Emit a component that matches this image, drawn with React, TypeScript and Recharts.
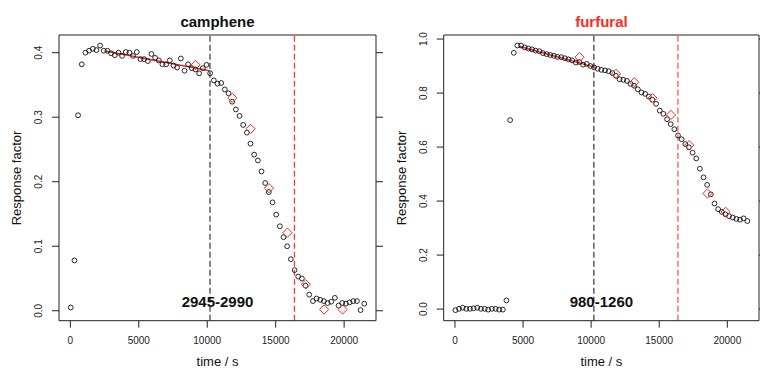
import React from 'react';
import { ComposedChart, Scatter, XAxis, YAxis, ReferenceLine } from 'recharts';

const FONT = '"Liberation Sans", Arial, Helvetica, sans-serif';

// sample times (s), shared by both panels
const TIMES = [
  30, 300, 565, 835, 1100, 1370, 1640, 1905, 2175, 2440,
  2710, 2980, 3245, 3515, 3780, 4050, 4320, 4585, 4855, 5120,
  5390, 5660, 5925, 6195, 6460, 6730, 7000, 7265, 7535, 7800,
  8070, 8340, 8605, 8875, 9140, 9410, 9680, 9945, 10215, 10480,
  10750, 11020, 11285, 11555, 11820, 12090, 12360, 12625, 12895, 13160,
  13430, 13700, 13965, 14235, 14500, 14770, 15040, 15305, 15575, 15840,
  16110, 16380, 16645, 16915, 17180, 17450, 17720, 17985, 18255, 18520,
  18790, 19060, 19325, 19595, 19860, 20130, 20400, 20665, 20935, 21200,
  21470,
];

const CAMPHENE = [
  0.005, 0.078, 0.303, 0.382, 0.400, 0.403, 0.406, 0.404, 0.411, 0.403,
  0.403, 0.399, 0.396, 0.400, 0.395, 0.401, 0.400, 0.395, 0.401, 0.390,
  0.390, 0.387, 0.398, 0.392, 0.388, 0.382, 0.382, 0.388, 0.380, 0.377,
  0.391, 0.372, 0.382, 0.376, 0.374, 0.368, 0.376, 0.381, 0.368, 0.357,
  0.352, 0.353, 0.343, 0.337, 0.324, 0.312, 0.302, 0.288, 0.276, 0.259,
  0.242, 0.233, 0.216, 0.198, 0.184, 0.168, 0.149, 0.131, 0.114, 0.100,
  0.080, 0.063, 0.053, 0.050, 0.039, 0.025, 0.015, 0.019, 0.017, 0.015,
  0.012, 0.014, 0.020, 0.008, 0.012, 0.011, 0.013, 0.015, 0.015, 0.001,
  0.011,
];

const FURFURAL = [
  -0.004, 0.001, 0.005, 0.001, 0.001, 0.003, 0.005, 0.001, 0.001, -0.002,
  0.001, 0.001, -0.002, -0.002, 0.032, 0.700, 0.949, 0.976, 0.976, 0.969,
  0.965, 0.962, 0.957, 0.955, 0.948, 0.944, 0.941, 0.938, 0.934, 0.933,
  0.929, 0.925, 0.921, 0.913, 0.915, 0.905, 0.908, 0.900, 0.895, 0.890,
  0.886, 0.884, 0.881, 0.874, 0.864, 0.851, 0.849, 0.845, 0.834, 0.827,
  0.814, 0.802, 0.797, 0.787, 0.775, 0.760, 0.735, 0.723, 0.703, 0.685,
  0.666, 0.643, 0.629, 0.611, 0.599, 0.579, 0.558, 0.520, 0.488, 0.460,
  0.425, 0.391, 0.370, 0.360, 0.351, 0.344, 0.339, 0.334, 0.331, 0.336,
  0.326,
];

// red diamonds
const DIAMOND_TIMES = [9150, 11830, 13170, 14510, 15860, 17200, 18540, 19880];
const CAMPHENE_DIAMONDS = [0.381, 0.330, 0.282, 0.190, 0.121, 0.041, 0.002, 0.002];
const FURFURAL_DIAMONDS = [0.933, 0.871, 0.840, 0.781, 0.719, 0.607, 0.428, 0.360];

// red fit segments [time, value]
const CAMPHENE_FIT = [[2555, 0.4026], [10168, 0.372]];
const FURFURAL_FIT = [[4760, 0.9725], [10250, 0.896]];

// vertical markers
const GRAY_LINE_TIME = 10200;
const RED_LINE_TIME = 16370;

const X_TICKS = [0, 5000, 10000, 15000, 20000];
const X_DOMAIN = [-828, 22328];
const CAMPHENE_Y_TICKS = [0, 0.1, 0.2, 0.3, 0.4];
const FURFURAL_Y_TICKS = [0, 0.2, 0.4, 0.6, 0.8, 1.0];

const XTick = (p: any) => (
  <text x={p.x} y={p.y} dy="0.71em" textAnchor="middle" fontSize={10} fill="#222" fontFamily={FONT}>
    {p.payload.value}
  </text>
);

const YTick = (p: any) => (
  <text
    x={p.x}
    y={p.y}
    transform={`rotate(-90 ${p.x} ${p.y})`}
    textAnchor="middle"
    fontSize={10}
    fill="#222"
    fontFamily={FONT}
  >
    {Number(p.payload.value).toFixed(1)}
  </text>
);

const EmptyTick = () => <g />;

const Circle = (p: any) => (
  <circle cx={p.cx} cy={p.cy} r={2.4} fill="none" stroke="#111" strokeWidth={0.9} />
);

const Diamond = (p: any) => {
  const s = 4.6;
  return (
    <path
      d={`M${p.cx},${p.cy - s} L${p.cx + s},${p.cy} L${p.cx},${p.cy + s} L${p.cx - s},${p.cy} Z`}
      fill="none"
      stroke="#f22a1a"
      strokeWidth={1}
    />
  );
};

function Panel(props: any) {
  const {
    left, width, leftAxisW, rightAxisW, values, diamonds, fit, yDomain, yTicks,
    grayStroke, grayWidth, redStroke, redWidth,
  } = props;
  const pts = TIMES.map((t, i) => ({ x: t, y: values[i] }));
  const dia = DIAMOND_TIMES.map((t, i) => ({ x: t, y: diamonds[i] }));
  return (
    <div style={{ position: 'absolute', left, top: 0, width, height: 371 }}>
      <ComposedChart width={width} height={371} margin={{ top: 35, right: 0, bottom: 20.3, left: 0 }}>
        <XAxis
          type="number"
          dataKey="x"
          domain={X_DOMAIN}
          ticks={X_TICKS}
          allowDataOverflow
          interval={0}
          height={30}
          tickSize={7}
          tickMargin={9}
          stroke="#222"
          tick={<XTick />}
        />
        <YAxis
          yAxisId="l"
          type="number"
          dataKey="y"
          domain={yDomain}
          ticks={yTicks}
          allowDataOverflow
          interval={0}
          width={leftAxisW}
          tickSize={7}
          tickMargin={9.5}
          stroke="#222"
          tick={<YTick />}
        />
        <YAxis
          yAxisId="r"
          orientation="right"
          type="number"
          domain={yDomain}
          ticks={yTicks}
          allowDataOverflow
          interval={0}
          width={rightAxisW}
          tickSize={7}
          stroke="#222"
          tick={<EmptyTick />}
        />
        <ReferenceLine yAxisId="l" y={yDomain[1]} stroke="#222" strokeWidth={1} ifOverflow="extendDomain" />
        <ReferenceLine yAxisId="l" x={GRAY_LINE_TIME} stroke={grayStroke} strokeWidth={grayWidth} strokeDasharray="6 3" />
        <ReferenceLine yAxisId="l" x={RED_LINE_TIME} stroke={redStroke} strokeWidth={redWidth} strokeDasharray="6 3" />
        <Scatter yAxisId="l" data={pts} dataKey="y" shape={<Circle />} isAnimationActive={false} />
        <ReferenceLine
          yAxisId="l"
          segment={[{ x: fit[0][0], y: fit[0][1] }, { x: fit[1][0], y: fit[1][1] }]}
          stroke="#f22a1a"
          strokeWidth={1.4}
        />
        <Scatter yAxisId="l" data={dia} dataKey="y" shape={<Diamond />} isAnimationActive={false} />
      </ComposedChart>
    </div>
  );
}

export default function App() {
  return (
    <div style={{ position: 'absolute', left: 0, top: 0, width: 760, height: 371, background: '#fff', overflow: 'hidden' }}>
      <Panel
        left={0}
        width={384}
        leftAxisW={59}
        rightAxisW={8}
        values={CAMPHENE}
        diamonds={CAMPHENE_DIAMONDS}
        fit={CAMPHENE_FIT}
        yDomain={[-0.0154, 0.4274]}
        yTicks={CAMPHENE_Y_TICKS}
        grayStroke="#7a7a7a"
        grayWidth={1.8}
        redStroke="#ff3b2f"
        redWidth={1.3}
      />
      <Panel
        left={384}
        width={376}
        leftAxisW={59.7}
        rightAxisW={1}
        values={FURFURAL}
        diamonds={FURFURAL_DIAMONDS}
        fit={FURFURAL_FIT}
        yDomain={[-0.043, 1.015]}
        yTicks={FURFURAL_Y_TICKS}
        grayStroke="#333"
        grayWidth={1.2}
        redStroke="#f8877c"
        redWidth={1.8}
      />
      <svg width={760} height={371} style={{ position: 'absolute', left: 0, top: 0, pointerEvents: 'none' }}>
        <g fontFamily={FONT}>
          <text x={217.5} y={26.5} textAnchor="middle" fontSize={15} fontWeight="bold" fill="#111">camphene</text>
          <text x={601.4} y={26.5} textAnchor="middle" fontSize={15} fontWeight="bold" fill="#ff2a1a">furfural</text>
          <text x={21} y={178} transform="rotate(-90 21 178)" textAnchor="middle" fontSize={13} fill="#111">Response factor</text>
          <text x={405.7} y={178} transform="rotate(-90 405.7 178)" textAnchor="middle" fontSize={13} fill="#111">Response factor</text>
          <text x={217.5} y={366} textAnchor="middle" fontSize={13} fill="#111">time / s</text>
          <text x={601.4} y={366} textAnchor="middle" fontSize={13} fill="#111">time / s</text>
          <text x={217.5} y={306.7} textAnchor="middle" fontSize={15} fontWeight="bold" fill="#111">2945-2990</text>
          <text x={601.4} y={306.7} textAnchor="middle" fontSize={15} fontWeight="bold" fill="#111">980-1260</text>
        </g>
      </svg>
    </div>
  );
}
